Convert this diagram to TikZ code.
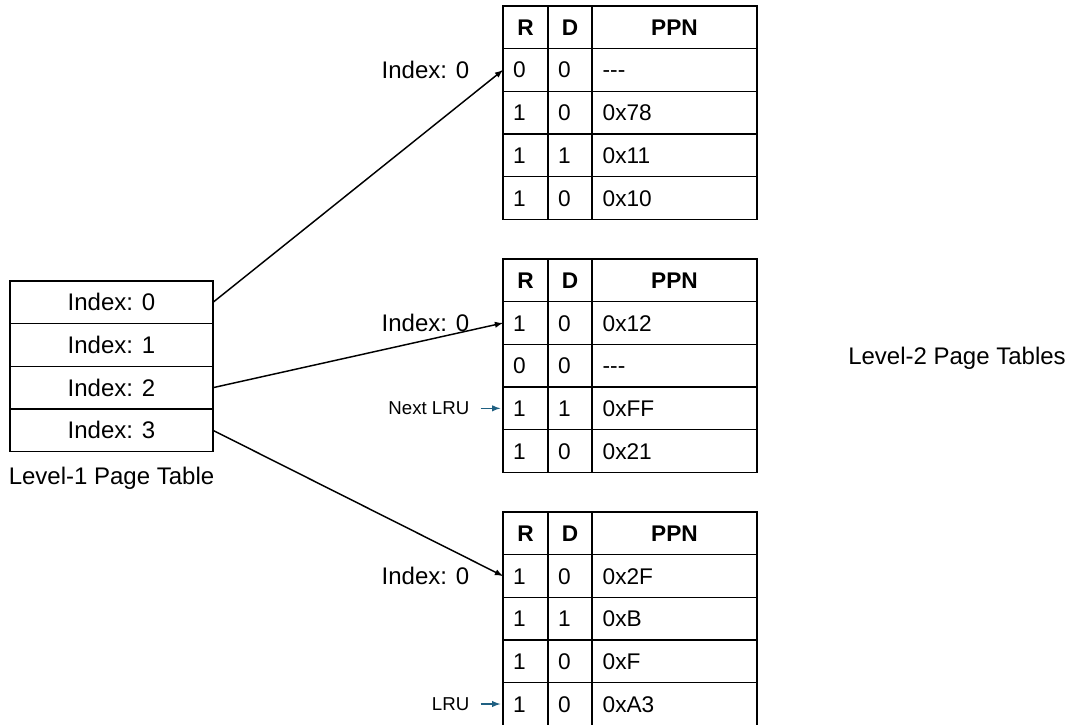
\documentclass[tikz,border=0pt]{standalone}
\usepackage{fontspec}
\setmainfont{Liberation Sans}
\usetikzlibrary{positioning}
\definecolor{lrublue}{RGB}{31,96,130}
\tikzstyle{cell} = [draw, rectangle, inner ysep=0pt, outer sep=0pt, minimum height=32pt, text height=13.5pt, text depth=1.5pt, font=\fontsize{17}{20}\selectfont]
\tikzstyle{cr} = [cell, inner xsep=7.5pt, text width=18.75pt, align=left]
\tikzstyle{cd} = [cell, inner xsep=7.5pt, text width=18pt, align=left]
\tikzstyle{cp} = [cell, inner xsep=8pt, text width=107.75pt, align=left]
\tikzstyle{head} = [align=center, font=\fontsize{17}{20}\selectfont\bfseries]
\tikzstyle{entry} = [draw, rectangle, outer sep=0pt, minimum width=152.25pt, minimum height=32pt, font=\fontsize{18}{21}\selectfont]
\tikzstyle{lbl} = [inner sep=0pt, font=\fontsize{18}{21}\selectfont]
\tikzstyle{small} = [inner sep=0pt, font=\fontsize{14}{17}\selectfont]
\tikzstyle{link} = [->, >=latex, line width=1.1pt]
\tikzstyle{lruarrow} = [->, >=latex, lrublue, line width=1.1pt, shorten <=8pt, shorten >=2pt]

\begin{document}
\begin{tikzpicture}[x=0.75pt, y=-0.75pt, node distance=0pt, line width=1pt]
\path [use as bounding box, fill=white] (0,0) rectangle (1073,724);

% level-1 table
\node (l1r0) [entry, anchor=north west] at (10,281) {Index: 0};
\foreach \i/\pre in {1/0, 2/1, 3/2}
  \node (l1r\i) [entry, below=of l1r\pre] {Index: \i};
\node (l1name) [lbl, below=11pt of l1r3] {Level-1 Page Table};

% first level-2 table
\node (a0-r) [cr, head, anchor=north west] at (503,6) {R};
\node (a0-d) [cd, head, right=of a0-r] {D};
\node (a0-p) [cp, head, right=of a0-d] {PPN};
\foreach \i/\pre/\rv/\dv/\pv in {1/0/0/0/-{}-{}-, 2/1/1/0/0x78, 3/2/1/1/0x11, 4/3/1/0/0x10} {
  \node (a\i-r) [cr, below=of a\pre-r] {\rv};
  \node (a\i-d) [cd, right=of a\i-r] {\dv};
  \node (a\i-p) [cp, right=of a\i-d] {\pv};
}

% second level-2 table
\node (b0-r) [cr, head, anchor=north west] at (503,259) {R};
\node (b0-d) [cd, head, right=of b0-r] {D};
\node (b0-p) [cp, head, right=of b0-d] {PPN};
\foreach \i/\pre/\rv/\dv/\pv in {1/0/1/0/0x12, 2/1/0/0/-{}-{}-, 3/2/1/1/0xFF, 4/3/1/0/0x21} {
  \node (b\i-r) [cr, below=of b\pre-r] {\rv};
  \node (b\i-d) [cd, right=of b\i-r] {\dv};
  \node (b\i-p) [cp, right=of b\i-d] {\pv};
}

% third level-2 table
\node (c0-r) [cr, head, anchor=north west] at (503,512) {R};
\node (c0-d) [cd, head, right=of c0-r] {D};
\node (c0-p) [cp, head, right=of c0-d] {PPN};
\foreach \i/\pre/\rv/\dv/\pv in {1/0/1/0/0x2F, 2/1/1/1/0xB, 3/2/1/0/0xF, 4/3/1/0/0xA3} {
  \node (c\i-r) [cr, below=of c\pre-r] {\rv};
  \node (c\i-d) [cd, right=of c\i-r] {\dv};
  \node (c\i-p) [cp, right=of c\i-d] {\pv};
}

\node (l2name) [lbl] at (957,358) {Level-2 Page Tables};

% index labels, then the pointers over them
\node (a-idx) [lbl, left=24.75pt of a1-r] {Index: 0};
\node (b-idx) [lbl, left=24.75pt of b1-r] {Index: 0};
\node (c-idx) [lbl, left=24.75pt of c1-r] {Index: 0};
\draw [link] (l1r0.east) -- (a1-r.west);
\draw [link] (l1r2.east) -- (b1-r.west);
\draw [link] (l1r3.east) -- (c1-r.west);

% lru marks
\node (nextlru) [small, left=24.75pt of b3-r] {Next LRU};
\draw [lruarrow] (nextlru) -- (b3-r);
\node (lru) [small, left=24.75pt of c4-r] {LRU};
\draw [lruarrow] (lru) -- (c4-r);
\end{tikzpicture}
\end{document}
